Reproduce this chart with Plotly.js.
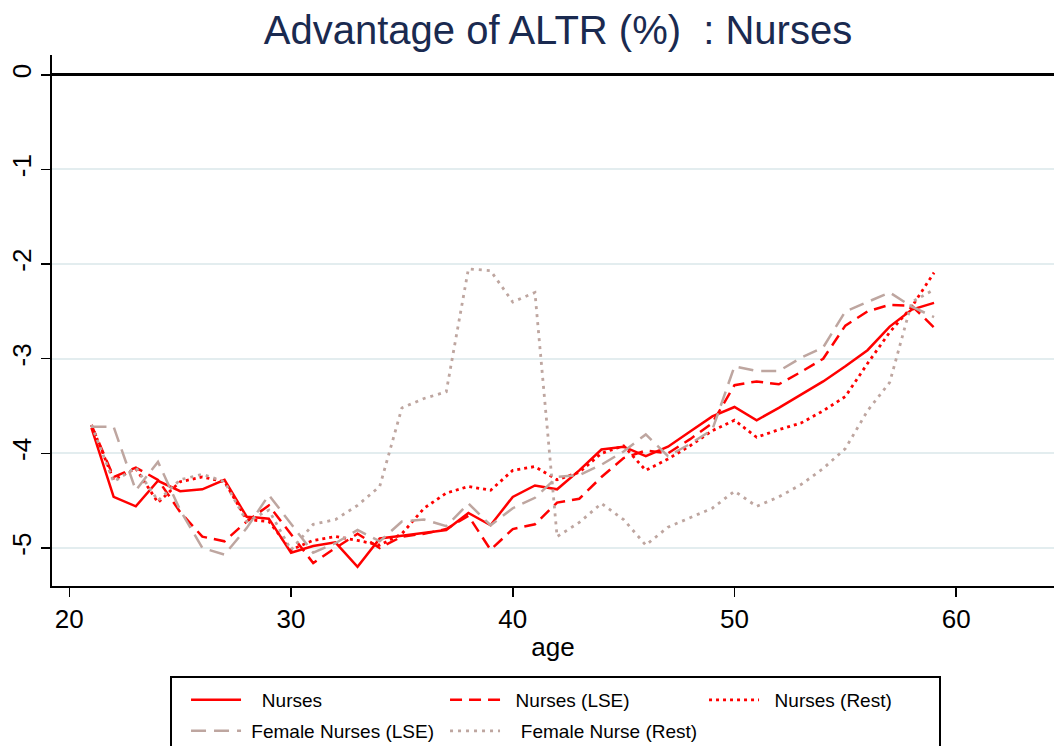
<!DOCTYPE html>
<html>
<head>
<meta charset="utf-8">
<script src="https://cdn.plot.ly/plotly-3.0.1.min.js"></script>
<style>html,body{margin:0;padding:0;background:#fff;}#chart{width:1054px;height:746px;}</style>
</head>
<body>
<div id="chart"></div>
<script>
var ages = [21,22,23,24,25,26,27,28,29,30,31,32,33,34,35,36,37,38,39,40,41,42,43,44,45,46,47,48,49,50,51,52,53,54,55,56,57,58,59];

var nurses = [-3.73,-4.46,-4.56,-4.29,-4.40,-4.38,-4.28,-4.67,-4.69,-5.05,-4.98,-4.94,-5.20,-4.90,-4.87,-4.84,-4.81,-4.63,-4.76,-4.46,-4.34,-4.38,-4.18,-3.96,-3.93,-4.03,-3.93,-3.77,-3.61,-3.51,-3.65,-3.52,-3.38,-3.24,-3.08,-2.91,-2.66,-2.48,-2.41];

var nursesLSE = [-3.70,-4.25,-4.15,-4.28,-4.62,-4.88,-4.93,-4.72,-4.55,-4.85,-5.16,-5.00,-4.85,-5.00,-4.88,-4.85,-4.80,-4.66,-5.02,-4.80,-4.75,-4.52,-4.48,-4.25,-4.05,-3.97,-4.00,-3.85,-3.68,-3.28,-3.24,-3.27,-3.14,-3.00,-2.65,-2.50,-2.43,-2.44,-2.67];

var nursesRest = [-3.70,-4.28,-4.16,-4.52,-4.30,-4.25,-4.30,-4.70,-4.72,-5.02,-4.92,-4.88,-4.92,-4.97,-4.85,-4.58,-4.42,-4.35,-4.39,-4.18,-4.14,-4.28,-4.20,-4.00,-3.92,-4.18,-4.06,-3.92,-3.76,-3.65,-3.83,-3.75,-3.68,-3.55,-3.40,-3.05,-2.72,-2.45,-2.09];

var femaleLSE = [-3.72,-3.72,-4.39,-4.09,-4.60,-5.00,-5.07,-4.79,-4.44,-4.75,-5.05,-4.95,-4.81,-4.93,-4.72,-4.70,-4.77,-4.53,-4.76,-4.58,-4.47,-4.25,-4.23,-4.12,-3.98,-3.80,-4.03,-3.90,-3.75,-3.08,-3.13,-3.13,-2.99,-2.88,-2.50,-2.40,-2.30,-2.45,-2.56];

var femaleRest = [-3.70,-4.30,-4.15,-4.50,-4.28,-4.22,-4.30,-4.72,-4.60,-5.02,-4.75,-4.70,-4.55,-4.35,-3.52,-3.42,-3.35,-2.05,-2.07,-2.40,-2.30,-4.88,-4.73,-4.53,-4.70,-4.97,-4.78,-4.68,-4.58,-4.40,-4.56,-4.46,-4.33,-4.16,-3.95,-3.55,-3.25,-2.40,-2.27];

var NB = '\u00a0';
var seriesNames = [NB+NB+NB+'Nurses', NB+NB+'Nurses (LSE)', NB+NB+'Nurses (Rest)', NB+'Female Nurses (LSE)', NB+NB+NB+'Female Nurse (Rest)'];
var xTicks = [20, 30, 40, 50, 60];
var yTicks = [-5, -4, -3, -2, -1, 0];

var red = 'rgb(255,0,0)';
var rose = 'rgb(190,166,160)';
var FONT = 'Liberation Sans, Arial, sans-serif';

var traces = [
  {x: ages, y: nurses, name: seriesNames[0], mode: 'lines', line: {color: red, width: 2.5}, legend: 'legend'},
  {x: ages, y: nursesLSE, name: seriesNames[1], mode: 'lines', line: {color: red, width: 2.5, dash: '12px,7px'}, legend: 'legend'},
  {x: ages, y: nursesRest, name: seriesNames[2], mode: 'lines', line: {color: red, width: 2.8, dash: '3px,4px'}, legend: 'legend'},
  {x: ages, y: femaleLSE, name: seriesNames[3], mode: 'lines', line: {color: rose, width: 2.5, dash: '15px,8px'}, legend: 'legend2'},
  {x: ages, y: femaleRest, name: seriesNames[4], mode: 'lines', line: {color: rose, width: 2.8, dash: '3px,5px'}, legend: 'legend2'}
];

var legendCommon = {
  orientation: 'h', xref: 'container', yref: 'container',
  x: 0.1765, xanchor: 'left', yanchor: 'middle',
  font: {family: FONT, size: 19, color: '#000'},
  bgcolor: 'rgba(0,0,0,0)', borderwidth: 0,
  entrywidth: 194, entrywidthmode: 'pixels', itemwidth: 50,
  traceorder: 'normal'
};

var layout = {
  width: 1054, height: 746,
  margin: {l: 52, r: 0, t: 55, b: 160, pad: 0},
  paper_bgcolor: '#fff', plot_bgcolor: '#fff',
  font: {family: FONT, color: '#000'},
  title: {text: 'Advantage of ALTR (%)\u00a0 : Nurses', font: {family: FONT, size: 40, color: '#1a2a50'},
          x: 0.5294, xanchor: 'center', xref: 'container', y: 0.9598, yanchor: 'middle', yref: 'container'},
  showlegend: true,
  legend: Object.assign({}, legendCommon, {y: 1 - 700/746}),
  legend2: Object.assign({}, legendCommon, {y: 1 - 731/746}),
  xaxis: {
    range: [19.22, 64.41], tickmode: 'array', tickvals: xTicks, ticktext: xTicks.map(String),
    ticks: 'outside', ticklen: 9, tickwidth: 1.5, tickcolor: '#000',
    showline: true, linecolor: '#000', linewidth: 2, showgrid: false, zeroline: false,
    tickfont: {family: FONT, size: 26, color: '#000'},
    title: {text: 'age', font: {family: FONT, size: 26, color: '#000'}, standoff: 5}
  },
  yaxis: {
    range: [-5.402, 0.21], tickmode: 'array', tickvals: yTicks, ticktext: yTicks.map(String),
    ticks: 'outside', ticklen: 9, tickwidth: 1.5, tickcolor: '#000', tickangle: -90,
    showline: true, linecolor: '#000', linewidth: 2,
    showgrid: true, gridcolor: '#e3edef', gridwidth: 2,
    zeroline: true, zerolinecolor: '#000', zerolinewidth: 3,
    tickfont: {family: FONT, size: 26, color: '#000'}
  },
  shapes: [
    {type: 'rect', xref: 'paper', yref: 'paper', x0: (171-52)/1002, x1: (940-52)/1002,
     y0: (586-677)/531, y1: (586-752)/531, line: {color: '#000', width: 2}, fillcolor: 'rgba(0,0,0,0)'}
  ]
};

Plotly.newPlot('chart', traces, layout, {displayModeBar: false, staticPlot: true});
</script>
</body>
</html>
